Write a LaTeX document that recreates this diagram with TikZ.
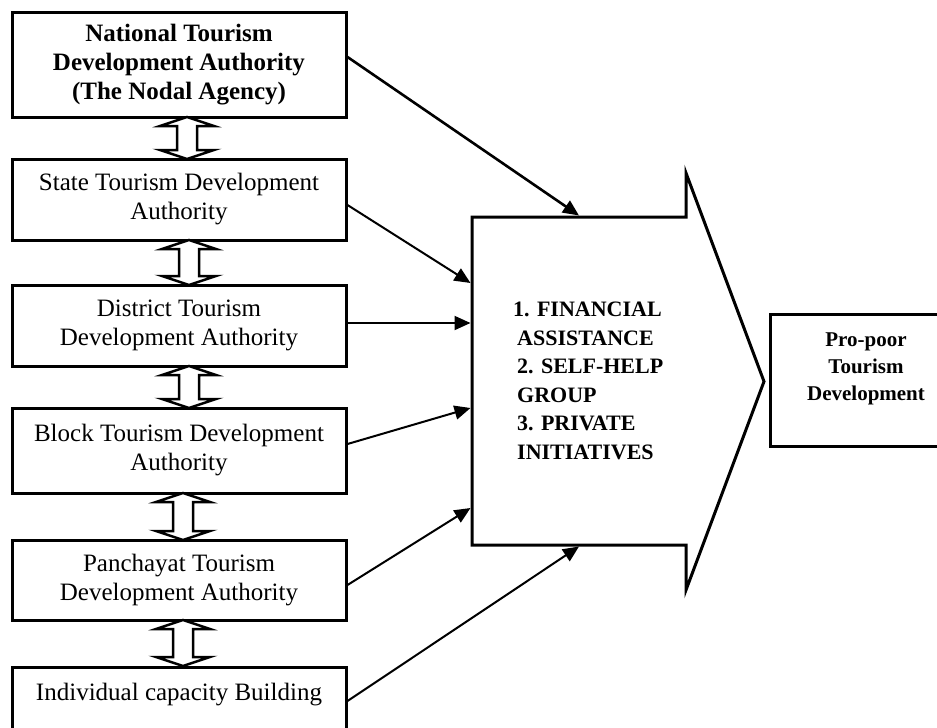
\documentclass[tikz,border=0pt]{standalone}
\usepackage{fontspec}
\setmainfont{Liberation Serif}
\usetikzlibrary{arrows.meta}
\newcommand\dblarr[3]{%
  \draw[dbl] (#1,#2) -- ++(27,9) -- ++(-17,0) -- (#1+10,#3-9) -- ++(17,0) -- (#1,#3)
    -- ++(-27,-9) -- ++(17,0) -- (#1-10,#2+9) -- ++(-17,0) -- cycle;}
\begin{document}
\begin{tikzpicture}[x=1pt,y=-1pt,
  box/.style={draw, line width=3pt, minimum width=334pt, align=center, inner sep=0pt,
    font=\fontsize{25}{29}\selectfont},
  conn/.style={line width=2pt, -{Triangle[length=16pt,width=14pt]}},
  dbl/.style={draw, line width=2.5pt, fill=white, line join=miter},
  big/.style={draw, line width=3pt, line join=miter}]
\useasboundingbox (0,0) rectangle (937,728);
\clip (0,0) rectangle (937,728);

% left boxes
\node[box, minimum height=105pt, font=\bfseries\fontsize{25}{29}\selectfont] (b1) at (179,64.5)
  {National Tourism\\Development Authority\\(The Nodal Agency)};
\node[box, minimum height=81pt] (b2) at (179,199.5) {State Tourism Development\\Authority};
\node[box, minimum height=81pt] (b3) at (179,325.5) {District Tourism\\Development Authority};
\node[box, minimum height=85pt] (b4) at (179,450.5) {Block Tourism Development\\Authority};
\node[box, minimum height=80pt] (b5) at (179,580) {Panchayat Tourism\\Development Authority};
\node[box, minimum height=54pt, text height=33pt, text depth=60pt, anchor=north] (b6) at (179,666) {Individual capacity Building};

% double arrows
\dblarr{187}{117}{159}
\dblarr{189}{240}{285}
\dblarr{189}{366}{408}
\dblarr{183}{493}{540}
\dblarr{183}{620}{666}

% big arrow
\draw[big] (472,217) -- (686,217) -- (686,173) -- (764,381.5) -- (686,590) -- (686,545) -- (472,545) -- cycle;
\node[anchor=west, align=left, inner sep=0pt, font=\bfseries\fontsize{22}{28.5}\selectfont] (fin) at (517,381)
  {\hspace*{-4pt}1. FINANCIAL\\ASSISTANCE\\2. SELF-HELP\\GROUP\\3. PRIVATE\\INITIATIVES};

% right box
\node[draw, line width=3pt, minimum width=192pt, minimum height=132pt, align=center, inner sep=0pt,
  font=\bfseries\fontsize{21}{27}\selectfont] (pp) at (866,380) {Pro-poor\\Tourism\\Development\\ \mbox{}};

% connector targets
\coordinate (t1) at (579,215.5);
\coordinate (t2) at (470.5,283);
\coordinate (t3) at (470.5,323);
\coordinate (t4) at (470.5,408);
\coordinate (t5) at (470.5,508);
\coordinate (t6) at (579,546.5);

\draw[conn, line width=2.6pt] ([yshift=7.5pt]b1.east) -- (t1);
\draw[conn] ([yshift=-5.5pt]b2.east) -- (t2);
\draw[conn] ([yshift=2.5pt]b3.east) -- (t3);
\draw[conn] ([yshift=6.5pt]b4.east) -- (t4);
\draw[conn] ([yshift=-5pt]b5.east) -- (t5);
\draw[conn] (b6.north east) ++(0,35) coordinate (s6) -- (t6);
\end{tikzpicture}
\end{document}
